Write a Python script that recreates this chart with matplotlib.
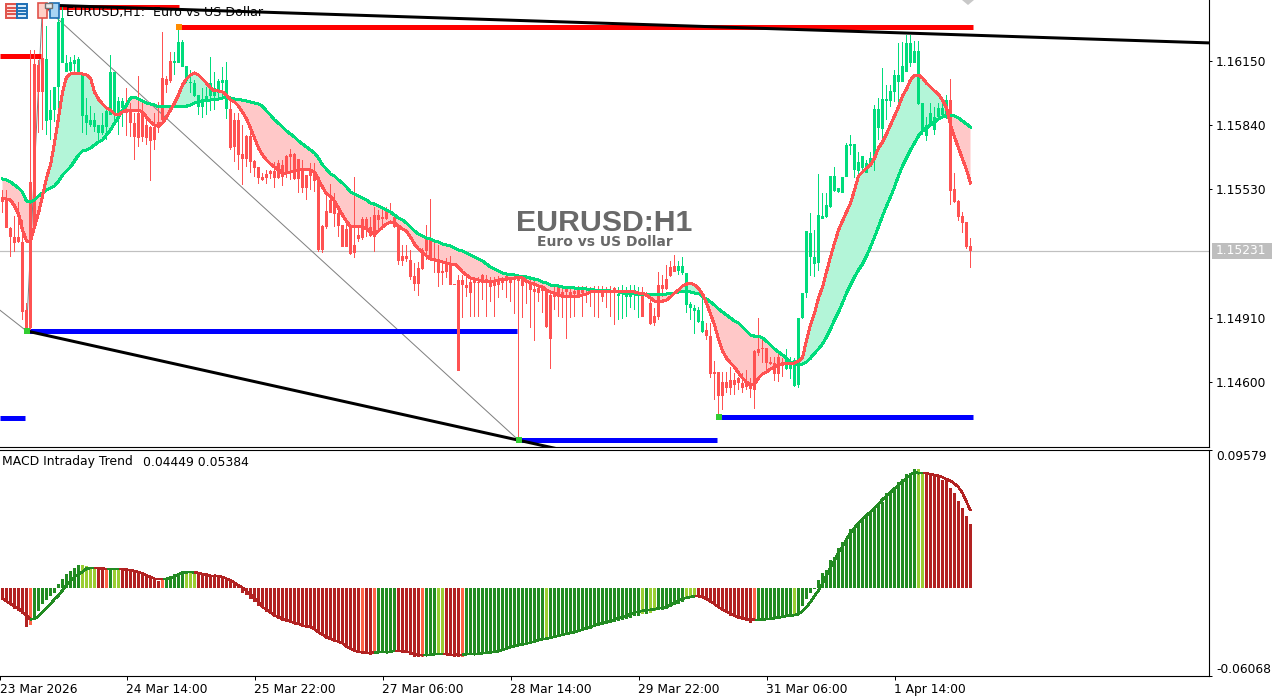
#EURUSD H1 chart with MACD panel

import numpy as np
import matplotlib
matplotlib.use("Agg")
import matplotlib.pyplot as plt
from matplotlib.patches import Rectangle, Polygon

# prices are kept in points above 1.0 (16150 = 1.16150)
opens=[15493,15479,15344,15300,15300,15276,14948,15566,16135,16130,
16164,15860,15865,15913,16024,16140,16097,16101,16135,16087,
15884,15850,15841,15831,15802,15802,15831,15889,15899,15899,
15923,15913,15903,15850,15899,15899,15841,15831,15831,15855,
16068,16063,16150,16140,16140,16121,16053,16043,15981,15928,
15928,15966,15981,15981,15995,16043,15918,15918,15865,15865,
15701,15788,15788,15667,15638,15590,15604,15619,15619,15657,
15648,15691,15701,15701,15677,15633,15599,15628,15604,15590,
15353,15426,15479,15479,15416,15358,15339,15349,15262,15310,
15387,15387,15349,15406,15406,15397,15426,15421,15397,15349,
15209,15209,15189,15112,15151,15238,15291,15295,15199,15194,
15136,15170,15170,15073,15093,15093,15069,15083,15093,15083,
15117,15097,15078,15093,15088,15097,15112,15097,15107,15102,
15107,15093,15078,15049,15054,15059,15040,15020,15035,15059,
15035,15049,15035,15040,15044,15044,15030,15040,15040,15044,
15035,15044,15044,15054,15015,15030,15011,15011,15020,15030,
15020,15020,14982,14919,15069,15069,15097,15155,15160,15136,
15126,14972,14958,14943,14890,14842,14851,14822,14649,14649,
14600,14600,14610,14610,14620,14596,14596,14591,14750,14760,
14765,14765,14697,14692,14721,14697,14663,14663,14581,14586,
14909,15030,15204,15170,15175,15387,15397,15445,15522,15517,
15513,15590,15739,15624,15619,15633,15609,15638,15681,15826,
15821,15957,15957,16000,16048,16048,16097,16140,16140,15942,
15807,15788,15841,15817,15879,15889,15875,15961,15532,15474,
15402,15373,15257]
closes=[15469,15344,15300,15271,15276,14938,14861,14861,15344,16000,
16000,16159,15913,16024,16338,16357,16140,16145,16154,16159,
16087,15889,15865,15865,15841,15841,15908,16097,16097,15957,
15957,15899,15850,15783,15778,15783,15778,15764,15768,15826,
15865,16034,16053,16150,16241,16241,16125,16048,16043,15986,
15966,15981,16043,16019,16053,16058,16058,15730,15735,15696,
15677,15677,15662,15633,15585,15575,15585,15604,15585,15585,
15590,15614,15686,15580,15580,15537,15537,15595,15570,15238,
15238,15349,15416,15411,15353,15252,15252,15218,15223,15291,
15295,15344,15305,15300,15382,15387,15387,15416,15349,15184,
15184,15194,15107,15073,15073,15146,15233,15199,15184,15127,
15127,15131,15069,15069,14654,15069,15054,15030,15078,15078,
15078,15078,15059,15064,15069,15078,15088,15078,15093,15088,
15064,15078,15044,15035,15030,15040,14866,14808,15011,15011,
15011,15035,15015,15025,15015,15030,15020,15035,15035,15035,
15011,15035,15035,15040,15025,15035,15044,15044,15044,15035,
14914,15011,14880,14885,14914,15049,15049,15112,15131,15160,
15160,15126,14977,14958,14948,14895,14822,14639,14639,14533,
14533,14572,14572,14586,14596,14572,14576,14567,14562,14740,
14760,14692,14687,14639,14639,14692,14721,14683,14707,14909,
15030,15329,15320,15204,15406,15402,15455,15595,15595,15537,
15590,15744,15749,15749,15662,15691,15657,15681,15918,15918,
15966,15966,16005,16082,16082,16125,16236,16236,16198,16198,
15947,15841,15899,15879,15923,15923,15961,15522,15469,15397,
15368,15252,15231]
highs=[15527,15527,15349,15402,15469,15382,14982,16203,16203,16154,
16405,16319,16010,16024,16420,16420,16179,16169,16179,16169,
16092,15971,15932,15899,15841,15899,15913,16179,16097,15976,
15971,16019,15947,15899,16077,15947,15875,15836,15899,15952,
16290,16077,16193,16193,16314,16251,16125,16106,16058,15986,
16019,16024,16169,16097,16063,16121,16145,15961,15899,15899,
15841,15793,15831,15672,15638,15609,15624,15624,15662,15672,
15672,15696,15725,15706,15677,15672,15599,15657,15657,15590,
15358,15513,15556,15513,15440,15358,15382,15349,15590,15349,
15397,15397,15397,15445,15431,15431,15445,15464,15416,15358,
15262,15262,15238,15175,15180,15247,15358,15484,15286,15262,
15189,15199,15209,15073,15117,15117,15107,15107,15107,15107,
15122,15117,15107,15107,15112,15107,15112,15107,15112,15112,
15112,15112,15112,15093,15069,15069,15044,15044,15069,15069,
15064,15064,15059,15059,15064,15064,15064,15059,15064,15064,
15064,15059,15064,15059,15059,15069,15059,15069,15069,15059,
15059,15035,15030,14958,15131,15117,15165,15184,15213,15184,
15204,15126,14987,14972,14962,15006,14885,14885,14702,14649,
14649,14649,14673,14644,14625,14644,14658,14620,14755,14909,
14813,14765,14721,14721,14740,14716,14760,14721,14716,14909,
15030,15329,15416,15334,15604,15513,15513,15595,15638,15537,
15590,15754,15793,15749,15710,15691,15672,15710,15937,15971,
16116,16034,16034,16106,16236,16241,16275,16275,16246,16246,
15947,15879,15947,15928,15947,15947,15986,16063,15609,15479,
15421,15373,15295]
lows=[15416,15344,15204,15228,15271,14900,14846,14851,15320,15802,
15817,15793,15768,15855,15923,16140,16097,16092,16082,16082,
15802,15793,15831,15807,15768,15793,15768,15889,15850,15793,
15831,15788,15783,15672,15735,15759,15744,15570,15720,15802,
15855,15995,16043,16082,16140,16121,16043,15995,15976,15889,
15875,15889,15908,15913,15961,15971,15870,15720,15662,15624,
15551,15638,15609,15590,15556,15570,15556,15580,15537,15580,
15546,15585,15575,15575,15513,15513,15479,15527,15517,15228,
15223,15339,15416,15349,15300,15252,15252,15213,15199,15276,
15286,15300,15300,15228,15324,15334,15382,15406,15344,15165,
15160,15180,15093,15040,15015,15141,15189,15189,15127,15059,
15069,15102,15069,15069,14654,14909,15011,14914,14914,14914,
14996,14914,14987,14914,15006,15044,15006,14987,14929,14320,
14909,14977,14861,14798,14987,14933,14861,14663,14948,14914,
14909,14808,14909,14914,15015,14914,14982,14962,14914,14909,
14987,14958,14914,14876,14900,14904,14914,14958,14948,14909,
14914,15011,14876,14871,14900,15011,15044,15107,15131,15117,
15117,14933,14900,14832,14885,14837,14803,14620,14514,14431,
14465,14548,14538,14538,14562,14548,14562,14523,14470,14726,
14692,14658,14683,14605,14600,14625,14658,14615,14576,14572,
14904,15006,15112,15107,15136,15387,15392,15440,15517,15513,
15513,15590,15696,15585,15590,15609,15609,15638,15619,15768,
15778,15865,15928,15952,15937,16048,16097,16121,16140,15937,
15793,15764,15831,15793,15875,15875,15870,15455,15464,15377,
15320,15242,15151]

ma_slow=[15580,15575,15566,15551,15537,15517,15474,15469,15479,15498,
15513,15527,15537,15546,15570,15599,15619,15638,15667,15696,
15715,15720,15730,15744,15759,15768,15793,15817,15850,15879,
15913,15937,15971,15976,15966,15957,15947,15942,15937,15928,
15928,15928,15928,15928,15928,15930,15932,15937,15947,15952,
15957,15961,15961,15966,15966,15971,15976,15971,15966,15964,
15961,15957,15952,15947,15942,15932,15908,15889,15865,15850,
15831,15812,15797,15783,15764,15749,15735,15720,15706,15681,
15648,15628,15604,15595,15575,15561,15542,15517,15508,15498,
15488,15479,15464,15459,15450,15440,15431,15421,15406,15392,
15382,15368,15349,15329,15315,15305,15295,15291,15281,15276,
15266,15262,15257,15247,15238,15233,15223,15213,15204,15194,
15184,15170,15155,15146,15136,15127,15122,15117,15117,15112,
15112,15107,15102,15097,15093,15083,15078,15069,15064,15064,
15059,15059,15059,15054,15054,15054,15049,15049,15044,15044,
15040,15040,15040,15035,15035,15030,15030,15030,15025,15025,
15025,15025,15025,15025,15025,15025,15025,15030,15030,15035,
15035,15035,15035,15030,15030,15011,15001,14987,14972,14953,
14938,14924,14909,14895,14885,14866,14847,14827,14822,14822,
14813,14798,14779,14760,14745,14731,14716,14697,14687,14683,
14687,14697,14716,14740,14760,14784,14818,14856,14900,14938,
14982,15030,15069,15107,15141,15170,15209,15252,15300,15349,
15402,15450,15493,15542,15595,15643,15681,15720,15754,15788,
15812,15826,15841,15855,15870,15879,15889,15889,15884,15875,
15860,15846,15831]
ma_fast=[15484,15484,15479,15450,15411,15334,15281,15281,15349,15416,
15498,15585,15648,15754,15875,16000,16072,16087,16092,16087,
16087,16082,16068,16000,15966,15942,15923,15913,15894,15889,
15903,15913,15913,15913,15913,15903,15879,15855,15841,15836,
15850,15879,15913,15947,15986,16034,16063,16082,16092,16082,
16063,16043,16019,16005,16005,16000,15986,15961,15952,15932,
15903,15870,15826,15778,15730,15696,15672,15653,15638,15624,
15609,15609,15614,15619,15624,15624,15624,15624,15614,15575,
15542,15508,15498,15474,15440,15406,15377,15349,15349,15349,
15349,15339,15324,15315,15329,15349,15363,15373,15368,15353,
15339,15329,15300,15266,15242,15228,15209,15194,15189,15184,
15180,15175,15170,15170,15155,15131,15117,15102,15097,15093,
15088,15088,15088,15088,15093,15093,15097,15102,15102,15107,
15102,15088,15078,15073,15064,15059,15044,15035,15030,15020,
15015,15015,15015,15015,15015,15020,15025,15035,15035,15035,
15035,15035,15035,15035,15035,15035,15035,15035,15035,15030,
15030,15020,15006,14991,14987,14991,14996,15011,15030,15044,
15064,15073,15078,15069,15054,15025,14982,14929,14876,14808,
14750,14716,14692,14673,14644,14620,14600,14586,14591,14620,
14639,14649,14663,14673,14683,14687,14692,14692,14692,14702,
14716,14803,14876,14933,15006,15059,15131,15204,15271,15334,
15377,15421,15464,15527,15595,15614,15633,15648,15681,15730,
15759,15797,15841,15884,15928,15981,16014,16058,16082,16082,
16068,16043,16024,16005,15990,15961,15923,15841,15783,15730,
15677,15624,15561]

# macd panel, in units of 0.0001
macd_hist=[-83,-95,-118,-141,-158,-176,-269,-257,-211,-158,
-107,-83,-56,-30,32,67,97,120,144,160,
160,153,137,137,137,130,125,132,132,132,
137,130,125,120,114,107,90,79,60,51,
60,67,83,97,109,120,120,120,114,107,
102,95,95,90,90,83,67,51,32,21,
-30,-44,-72,-95,-125,-134,-165,-176,-195,-211,
-227,-234,-239,-246,-253,-262,-269,-276,-285,-304,
-320,-350,-361,-368,-373,-380,-408,-419,-431,-443,
-454,-454,-459,-454,-443,-443,-443,-438,-431,-431,
-438,-443,-459,-477,-477,-477,-466,-466,-461,-456,
-456,-461,-466,-473,-473,-473,-459,-456,-456,-454,
-454,-445,-443,-440,-436,-426,-412,-401,-396,-389,
-385,-380,-373,-368,-361,-356,-345,-343,-338,-333,
-329,-322,-315,-311,-304,-292,-285,-278,-269,-260,
-255,-246,-239,-230,-223,-218,-211,-204,-192,-188,
-181,-176,-169,-160,-148,-148,-141,-130,-118,-107,
-95,-60,-56,-56,-60,-65,-72,-102,-111,-130,
-153,-171,-188,-199,-211,-218,-227,-241,-227,-218,
-216,-216,-211,-206,-199,-195,-190,-188,-181,-169,
-125,-76,-32,-7,56,107,130,199,215,276,
322,340,408,420,445,477,496,519,565,588,
600,658,670,704,734,755,792,797,825,827,
797,797,785,778,774,751,750,697,658,607,
554,500,449]
macd_signal=[-72,-88,-107,-125,-141,-165,-188,-215,-211,-192,
-165,-134,-107,-76,-49,-14,21,51,79,97,
114,137,141,141,139,137,134,134,134,134,
134,130,125,120,111,102,90,79,67,67,
67,67,74,83,97,107,111,114,109,107,
97,95,88,88,83,79,67,56,39,21,
5,-19,-42,-72,-95,-130,-146,-165,-188,-199,
-211,-222,-229,-241,-246,-257,-264,-269,-280,-304,
-320,-338,-350,-361,-368,-380,-403,-419,-431,-438,
-443,-447,-447,-445,-443,-443,-443,-438,-431,-431,
-436,-438,-443,-454,-461,-463,-463,-459,-456,-456,
-456,-456,-461,-461,-459,-459,-456,-456,-456,-452,
-449,-445,-443,-438,-436,-426,-417,-408,-401,-394,
-389,-382,-375,-368,-359,-352,-348,-341,-334,-327,
-320,-315,-308,-304,-294,-285,-276,-269,-255,-246,
-239,-232,-225,-215,-206,-199,-192,-176,-167,-160,
-155,-153,-148,-144,-139,-134,-130,-116,-102,-86,
-72,-65,-60,-56,-56,-60,-74,-88,-107,-130,
-146,-160,-176,-190,-199,-209,-213,-215,-218,-218,
-215,-213,-211,-206,-202,-197,-192,-188,-185,-178,
-158,-130,-95,-53,-14,32,90,148,190,248,
290,340,385,420,452,480,505,530,555,585,
615,640,665,690,715,740,765,785,805,797,
797,797,790,785,780,770,755,745,725,700,
660,600,538]
hist_runs=[("firebrick",7),("tomato",1),("forestgreen",12),("yellowgreen",4),("firebrick",2),
("tomato",1),("forestgreen",1),("yellowgreen",2),("firebrick",10),("tomato",1),
("forestgreen",5),("yellowgreen",3),("firebrick",41),("tomato",1),("firebrick",2),
("tomato",1),("forestgreen",5),("firebrick",6),("tomato",1),("forestgreen",3),
("yellowgreen",2),("firebrick",4),("tomato",1),("forestgreen",20),("yellowgreen",1),
("forestgreen",23),("yellowgreen",1),("forestgreen",1),("yellowgreen",2),("forestgreen",7),
("yellowgreen",3),("firebrick",14),("tomato",1),("forestgreen",9),("yellowgreen",1),
("forestgreen",30),("yellowgreen",2),("firebrick",12)]

# support/resistance: first bar, last bar, level
res_levels=[(-0.625,9.5,16174),(10,44,16408),(44,242.5,16314)]
sup_levels=[(-0.625,5.5,14427),(6,128.5,14847),(129,178.5,14321),(179,242.5,14432)]
orange_marks=[(44,16314)]
lime_marks=[(6,14847),(129,14321),(179,14432)]
zigzag_bars=[-0.625,6,10,129]
zigzag_vals=[14947,14847,16420,14320]
trend_top_bars=[10,301.625]
trend_top_vals=[16420,16237]
trend_low_bars=[6,139]
trend_low_vals=[14847,14277]

price_ticks=[1.16150,1.15840,1.15530,1.14910,1.14600]
last_price=1.15231
macd_ticks=[0.09579,-0.06068]
date_ticks=[-0.6,31,63,95,127,159,191,223]
date_labels=["23 Mar 2026","24 Mar 14:00","25 Mar 22:00","27 Mar 06:00",
             "28 Mar 14:00","29 Mar 22:00","31 Mar 06:00","1 Apr 14:00"]

RED="#FF5252"
GREEN="#00DC7C"
PX=0.72  # one pixel in points at dpi 100
FONT="DejaVu Sans"
plt.rcParams["font.family"]=FONT

def to_price(v):
    return 1+np.array(v)/1e5

o=to_price(opens); c=to_price(closes); h=to_price(highs); l=to_price(lows)
fast=to_price(ma_fast); slow=to_price(ma_slow)
x=np.arange(len(opens))

W,H=1285,697
fig=plt.figure(figsize=(W/100,H/100),dpi=100)
ax=fig.add_axes([0,1-447/H,1209/W,447/H])
sub=fig.add_axes([0,(H-676)/H,1209/W,(676-450)/H])

# main panel
ax.set_xlim(-0.625,301.625)
ax.set_ylim(1+14287/1e5,1+16444/1e5)
ax.axhline(last_price,color="#C0C0C0",lw=PX*1.2,zorder=0)
ax.fill_between(x,fast,slow,where=fast<slow,interpolate=True,color="#FFC8C8",lw=0,zorder=1)
ax.fill_between(x,fast,slow,where=fast>=slow,interpolate=True,color="#B3F5D8",lw=0,zorder=1)

ax.plot(zigzag_bars,to_price(zigzag_vals),color="#808080",lw=PX,zorder=1.5)
for a,b,v in res_levels:
    ax.plot([a,b],[1+v/1e5]*2,color="#FF0000",lw=5*PX,solid_capstyle="butt",zorder=1.6)
for a,b,v in sup_levels:
    ax.plot([a,b],[1+v/1e5]*2,color="#0000FF",lw=5*PX,solid_capstyle="butt",zorder=1.6)
ax.plot(trend_low_bars,to_price(trend_low_vals),color="black",lw=3*PX,solid_capstyle="butt",zorder=1.7)

cols=[GREEN if cc>oo else RED for oo,cc in zip(o,c)]
# wicks as one pixel wide bars, bodies three pixels wide
ax.bar(x,h-l,bottom=l,width=0.25,color=cols,lw=0,antialiased=False,zorder=2)
body=np.maximum(np.abs(c-o),6e-5)
ax.bar(x,body,bottom=np.minimum(o,c),width=0.75,color=cols,lw=0,antialiased=False,zorder=2)

ax.plot(x,slow,color=GREEN,lw=2.0*PX,antialiased=False,zorder=3)
ax.plot(x,fast,color=RED,lw=2.0*PX,antialiased=False,zorder=3)
ax.plot(trend_top_bars,to_price(trend_top_vals),color="black",lw=3*PX,solid_capstyle="butt",zorder=4)

for b,v in orange_marks:
    ax.plot(b,1+v/1e5,"s",color="#FF8C00",ms=4,mew=0,zorder=5)
for b,v in lime_marks:
    ax.plot(b,1+v/1e5,"s",color="#32CD32",ms=4,mew=0,zorder=5)

ax.spines["top"].set_visible(False)
ax.spines["left"].set_visible(False)
ax.yaxis.tick_right()
ax.set_yticks(price_ticks)
ax.set_yticklabels(["%.5f"%p for p in price_ticks])
ax.tick_params(axis="y",length=3*PX,width=PX,pad=3,labelsize=8.8)
ax.set_xticks([])

# macd panel
colors=[]
for name,n in hist_runs:
    colors+=[name]*n
hist=np.array(macd_hist)*1e-4
signal=np.array(macd_signal)*1e-4
sub.set_xlim(-0.625,301.625)
sub.set_ylim(-0.06068,0.09579)
sub.bar(x,hist,width=0.75,color=colors,lw=0,antialiased=False,zorder=2)
for i in range(len(x)-1):
    col="forestgreen" if colors[i+1] in ("forestgreen","yellowgreen") else "firebrick"
    sub.plot(x[i:i+2],signal[i:i+2],color=col,lw=1.6*PX,solid_capstyle="butt",antialiased=False,zorder=3)

sub.spines["left"].set_visible(False)
sub.yaxis.tick_right()
sub.set_yticks(macd_ticks)
sub.set_yticklabels(["%.5f"%t for t in macd_ticks])
sub.tick_params(axis="y",length=3*PX,width=PX,pad=3,labelsize=8.8)
sub.get_yticklabels()[0].set_va("top")
sub.get_yticklabels()[1].set_va("bottom")
sub.set_xticks(date_ticks)
sub.set_xticklabels(date_labels,ha="left")
sub.tick_params(axis="x",length=4*PX,width=PX,pad=2.5,labelsize=8.8)

# overlay in pixel coords: watermark, header, icons, last price box
deco=fig.add_axes([0,0,1,1])
deco.set_xlim(0,W)
deco.set_ylim(H,0)
deco.axis("off")
deco.text(604,223,"EURUSD:H1",color="#696969",fontsize=21.8,fontweight="bold",
          family="Liberation Sans",ha="center",va="center")
deco.text(604.5,241.5,"Euro vs US Dollar",color="#696969",fontsize=10,fontweight="bold",
          family="DejaVu Sans",ha="center",va="center")
deco.text(66,12.5,"EURUSD,H1:  Euro vs US Dollar",color="black",fontsize=9.1,ha="left",va="center")
deco.text(2,462,"MACD Intraday Trend",color="black",fontsize=8.9,ha="left",va="center")
deco.text(143,462,"0.04449 0.05384",color="black",fontsize=8.9,ha="left",va="center")

deco.add_patch(Rectangle((1212,243),60,16,color="#BEBEBE",lw=0))
deco.text(1216,251,"%.5f"%last_price,color="white",fontsize=8.8,ha="left",va="center")

deco.add_patch(Polygon([(962,0),(974,0),(968,5)],color="#C8C8C8",lw=0))

deco.add_patch(Rectangle((6,4),11,14,fc="#FFE0DC",ec="#E0524A",lw=1.4))
deco.add_patch(Rectangle((17,4),10,14,fc="#D8EAF8",ec="#1E6FB4",lw=1.4))
for yy in (8,11,14):
    deco.plot([8,15],[yy,yy],color="#E0524A",lw=1.4)
    deco.plot([19,26],[yy,yy],color="#1E6FB4",lw=1.4)
deco.add_patch(Rectangle((38,3),9,15,fc="#FFD0C8",ec="#E0524A",lw=1.2))
deco.add_patch(Rectangle((50,3),9,15,fc="#A8D4F4",ec="#1E6FB4",lw=1.2))
deco.add_patch(Rectangle((45,3),7,5,fc="#E8E8E8",ec="#707070",lw=1.0))

fig.savefig("out.png",dpi=100)
